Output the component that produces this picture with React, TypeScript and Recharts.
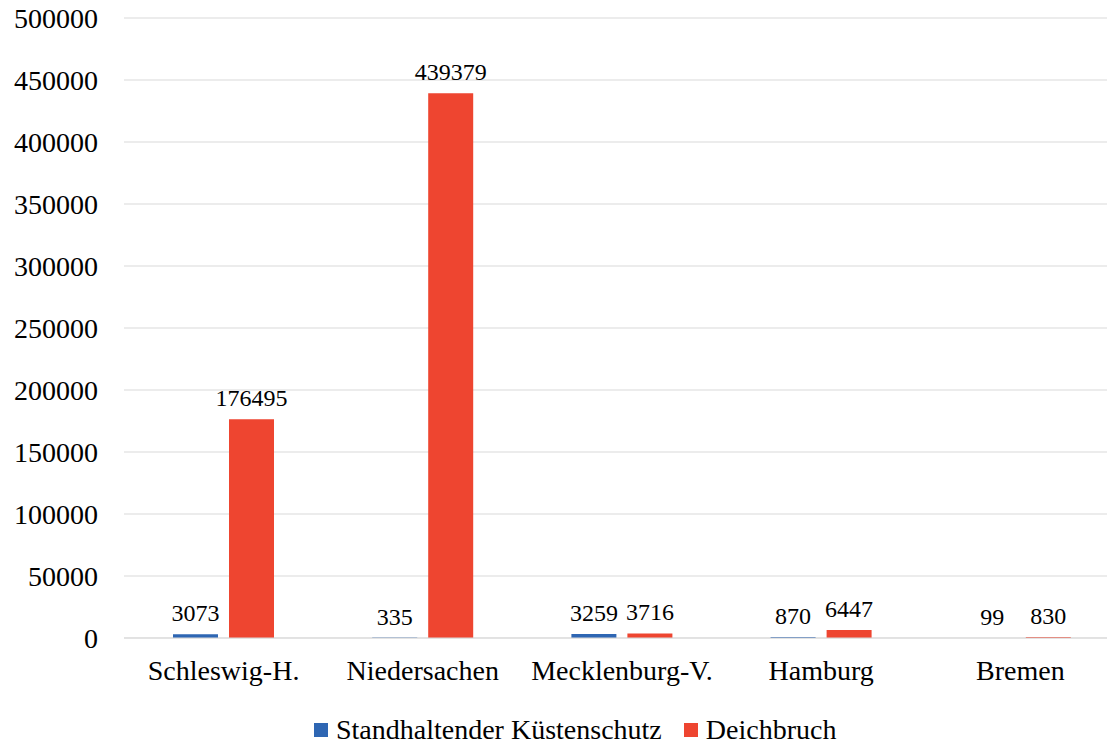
import React from 'react';
import { BarChart, Bar, XAxis, YAxis, CartesianGrid, Legend, LabelList } from 'recharts';

const categories = ['Schleswig-H.', 'Niedersachen', 'Mecklenburg-V.', 'Hamburg', 'Bremen'];
const standhaltend = [3073, 335, 3259, 870, 99];
const deichbruch = [176495, 439379, 3716, 6447, 830];
const yTicks = [0, 50000, 100000, 150000, 200000, 250000, 300000, 350000, 400000, 450000, 500000];
const seriesNames = ['Standhaltender Küstenschutz', 'Deichbruch'];
const seriesColors = ['#2E66B3', '#EE4530'];

const data = categories.map((name, i) => ({
  name,
  standhaltend: standhaltend[i],
  deichbruch: deichbruch[i],
}));

const FONT = "'Liberation Serif', 'Times New Roman', serif";

const renderLegend = () => (
  <div style={{ display: 'flex', alignItems: 'center', fontFamily: FONT, fontSize: 28, lineHeight: '24px', color: '#000', whiteSpace: 'nowrap', width: 600 }}>
    {seriesNames.map((n, i) => (
      <span key={n} style={{ display: 'inline-flex', alignItems: 'center', marginRight: i === 0 ? 22 : 0 }}>
        <span style={{ display: 'inline-block', width: 14, height: 14, background: seriesColors[i], marginRight: 8 }} />
        <span>{n}</span>
      </span>
    ))}
  </div>
);

export default function App() {
  return (
    <div style={{ position: 'fixed', left: 0, top: 0, width: 1107, height: 744, overflow: 'hidden', background: '#fff', fontFamily: FONT }}>
      <BarChart
        width={1125}
        height={744}
        data={data}
        margin={{ top: 18, right: 5, bottom: 46, left: 0 }}
        barSize={45}
        barGap={11}
        style={{ fontFamily: FONT }}
      >
        <CartesianGrid vertical={false} stroke="#d9d9d9" strokeWidth={1} />
        <XAxis
          dataKey="name"
          height={60}
          axisLine={{ stroke: '#d9d9d9' }}
          tickLine={false}
          tickSize={0}
          tickMargin={22}
          interval={0}
          tick={{ fill: '#000', fontSize: 28, fontFamily: FONT }}
        />
        <YAxis
          width={124}
          domain={[0, 500000]}
          ticks={yTicks}
          axisLine={false}
          tickLine={false}
          tickSize={0}
          tickMargin={26}
          interval={0}
          tick={{ fill: '#000', fontSize: 28, fontFamily: FONT }}
        />
        <Legend
          layout="horizontal"
          verticalAlign="middle"
          align="center"
          wrapperStyle={{ top: 718, left: 314, width: 700 }}
          content={renderLegend}
        />
        <Bar dataKey="standhaltend" name={seriesNames[0]} fill={seriesColors[0]} isAnimationActive={false}>
          <LabelList dataKey="standhaltend" position="top" offset={13} fill="#000" fontSize={24} fontFamily={FONT} style={{ fontFamily: FONT }} />
        </Bar>
        <Bar dataKey="deichbruch" name={seriesNames[1]} fill={seriesColors[1]} isAnimationActive={false}>
          <LabelList dataKey="deichbruch" position="top" offset={13} fill="#000" fontSize={24} fontFamily={FONT} style={{ fontFamily: FONT }} />
        </Bar>
      </BarChart>
    </div>
  );
}
